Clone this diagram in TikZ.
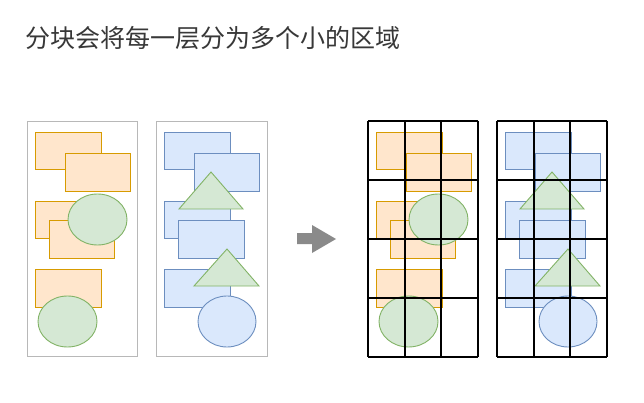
\documentclass[tikz,border=0pt]{standalone}
\usepackage{fontspec}
\newfontfamily\cjk{Noto Sans CJK SC}
\definecolor{orfill}{HTML}{FFE6CC}
\definecolor{orline}{HTML}{D79B00}
\definecolor{grfill}{HTML}{D5E8D4}
\definecolor{grline}{HTML}{82B366}
\definecolor{blfill}{HTML}{DAE8FC}
\definecolor{blline}{HTML}{6C8EBF}
\definecolor{panelline}{HTML}{B8B8B8}
\definecolor{titlecol}{HTML}{383838}
\definecolor{arrowcol}{HTML}{8A8A8A}
\tikzset{
  orbox/.style={fill=orfill,draw=orline,line width=0.9pt},
  grshape/.style={fill=grfill,draw=grline,line width=0.9pt},
  blbox/.style={fill=blfill,draw=blline,line width=0.9pt},
  panelbox/.style={draw=panelline,line width=1pt},
  gridline/.style={draw=black,line width=1.8pt},
  bigarrow/.style={fill=arrowcol,draw=none}
}
\newcommand{\orangeShapes}{%
  \draw[orbox] (35,132) rectangle (101,169);
  \draw[orbox] (65,153) rectangle (130,191);
  \draw[orbox] (35,201) rectangle (101,238);
  \draw[orbox] (49,220) rectangle (114,258);
  \draw[grshape] (97.5,219.5) ellipse [x radius=29.5, y radius=25.5];
  \draw[orbox] (35,269) rectangle (101,307);
  \draw[grshape] (67.5,321.5) ellipse [x radius=29.5, y radius=25.5];
}
\newcommand{\blueShapes}{%
  \draw[blbox] (164,132) rectangle (230,169);
  \draw[blbox] (194,153) rectangle (259,191);
  \draw[blbox] (164,201) rectangle (230,238);
  \draw[grshape] (211,172) -- (243,209) -- (179,209) -- cycle;
  \draw[blbox] (178,220) rectangle (244,258);
  \draw[blbox] (164,269) rectangle (230,307);
  \draw[grshape] (227,249) -- (259,286) -- (194,286) -- cycle;
  \draw[blbox] (227,321.5) ellipse [x radius=29, y radius=25.5];
}
\begin{document}
\begin{tikzpicture}[x=1pt,y=-1pt]
\useasboundingbox (0,0) rectangle (644,403);
\fill[white] (0,0) rectangle (644,403);
% title
\node[anchor=base west,inner sep=0pt,text=titlecol,font=\cjk\fontsize{25pt}{30pt}\selectfont] (title) at (25,48) {分块会将每一层分为多个小的区域};
% left panels
\draw[panelbox] (27,122) rectangle (137,356);
\orangeShapes
\draw[panelbox] (156,122) rectangle (267,356);
\blueShapes
% arrow
\fill[bigarrow] (297,233) -- (312,233) -- (312,225) -- (336,239) -- (312,253) -- (312,244) -- (297,244) -- cycle;
% right panels with grid
\begin{scope}[xshift=341pt]
  \orangeShapes
\end{scope}
\begin{scope}[xshift=341pt]
  \blueShapes
\end{scope}
\foreach \gx in {368,404.7,441.3,478} {\draw[gridline] (\gx,121) -- (\gx,357);}
\foreach \gy in {121,180,239,298,357} {\draw[gridline] (368,\gy) -- (478,\gy);}
\foreach \gx in {497,533.7,570.3,607} {\draw[gridline] (\gx,121) -- (\gx,357);}
\foreach \gy in {121,180,239,298,357} {\draw[gridline] (497,\gy) -- (607,\gy);}
\end{tikzpicture}
\end{document}
